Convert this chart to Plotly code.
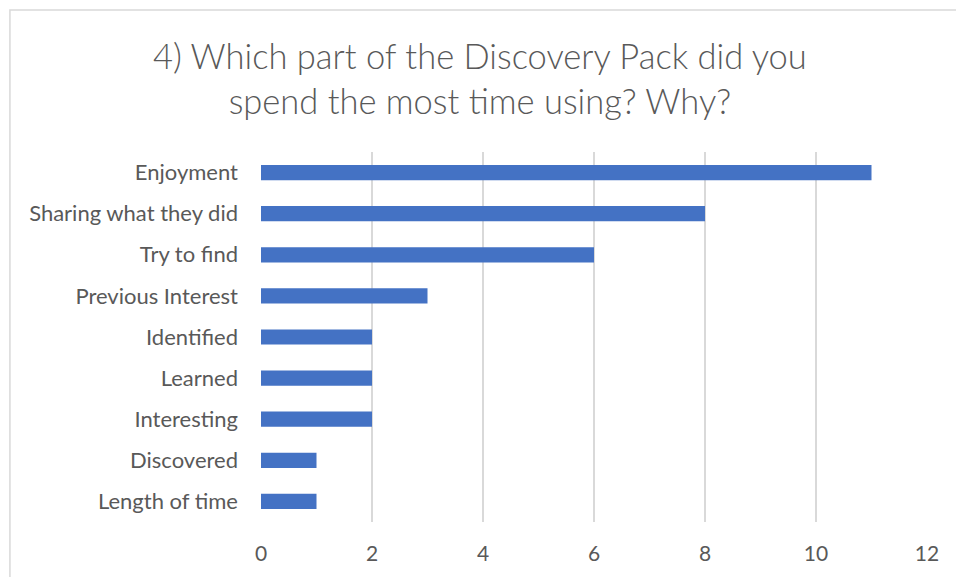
import plotly.graph_objects as go

# Survey responses: reasons given for the most-used part of the pack
categories = [
    "Enjoyment",
    "Sharing what they did",
    "Try to find",
    "Previous Interest",
    "Identified",
    "Learned",
    "Interesting",
    "Discovered",
    "Length of time",
]
counts = [11, 8, 6, 3, 2, 2, 2, 1, 1]
x_ticks = [0, 2, 4, 6, 8, 10, 12]

title_text = "4) Which part of the Discovery Pack did you<br>spend the most time using? Why?"

TEXT = "#595959"
GRID = "#D9D9D9"
BAR = "#4472C4"
FONT = "Lato"

fig = go.Figure(
    go.Bar(
        x=counts,
        y=categories,
        orientation="h",
        marker=dict(color=BAR, line=dict(width=0)),
        width=0.37,
    )
)

fig.update_layout(
    width=956,
    height=577,
    margin=dict(l=261, r=29, t=152, b=55),
    paper_bgcolor="white",
    plot_bgcolor="white",
    showlegend=False,
    font=dict(family=FONT, color=TEXT),
    title=dict(
        text=title_text,
        x=0.502,
        xanchor="center",
        y=0.881,
        yanchor="middle",
        font=dict(family=FONT, size=34.5, color=TEXT, weight=300),
    ),
    xaxis=dict(
        range=[0, 12],
        tickvals=x_ticks,
        showgrid=True,
        gridcolor=GRID,
        gridwidth=1.5,
        zeroline=False,
        showline=False,
        ticks="",
        tickfont=dict(size=21, color=TEXT),
        ticklabelstandoff=17,
    ),
    yaxis=dict(
        categoryorder="array",
        categoryarray=categories[::-1],
        showgrid=False,
        zeroline=False,
        showline=False,
        ticks="",
        tickfont=dict(size=22, color=TEXT),
        ticklabelstandoff=22,
    ),
    shapes=[
        # thin outer chart border
        dict(
            type="rect",
            xref="paper",
            yref="paper",
            x0=-0.377,
            x1=1.2,
            y0=-0.3,
            y1=1.384,
            line=dict(color=GRID, width=1.5),
            fillcolor="rgba(0,0,0,0)",
            layer="below",
        )
    ],
)

fig.write_html("out.html")
